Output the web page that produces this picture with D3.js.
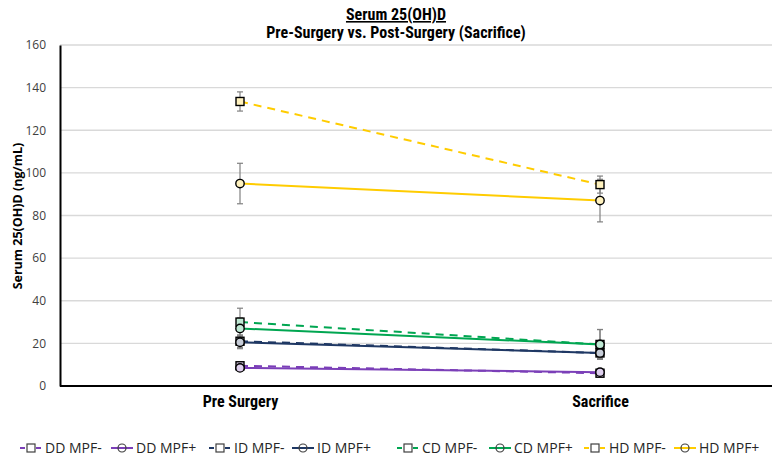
<!DOCTYPE html>
<html><head><meta charset="utf-8">
<script src="https://cdn.jsdelivr.net/npm/d3@7"></script>
<style>body{margin:0;background:#fff}svg{display:block}</style>
</head><body><svg id="c" width="772" height="462"></svg>
<script>
const categories = ["Pre Surgery", "Sacrifice"];
const seriesNames = ["DD MPF-", "DD MPF+", "ID MPF-", "ID MPF+", "CD MPF-", "CD MPF+", "HD MPF-", "HD MPF+"];
const seriesColors = ["#7B3FB8", "#7B3FB8", "#1F3864", "#1F3864", "#00A651", "#00A651", "#FFCC00", "#FFCC00"];
const seriesDashed = [true, false, true, false, true, false, true, false];
const seriesMarker = ["square", "circle", "square", "circle", "square", "circle", "square", "circle"];
const values = [
  [9.5, 6.0],
  [8.5, 6.5],
  [21.0, 15.5],
  [20.5, 15.5],
  [30.0, 19.5],
  [27.0, 19.5],
  [133.5, 94.5],
  [95.0, 87.0]
];
const errors = [
  [1.5, 1.0],
  [1.5, 1.5],
  [3.0, 2.5],
  [3.0, 2.5],
  [6.5, 7.0],
  [5.0, 7.0],
  [4.5, 4.0],
  [9.5, 10.0]
];
const yTicks = [0, 20, 40, 60, 80, 100, 120, 140, 160];

(function () {
const svg = d3.select("#c");
const mL = 60, mR = 780, mT = 45, mB = 386;
const x = d3.scalePoint().domain(categories).range([mL, mR]).padding(0.5);
const y = d3.scaleLinear().domain([0, 160]).range([mB, mT]);

// gridlines
svg.append("g").selectAll("line").data(yTicks.slice(1)).join("line")
  .attr("x1", mL).attr("x2", 772).attr("y1", d => y(d)).attr("y2", d => y(d))
  .attr("stroke", "#d9d9d9").attr("stroke-width", 1.3);

// y axis
const ya = svg.append("g").attr("transform", `translate(${mL},0)`)
  .call(d3.axisLeft(y).tickValues(yTicks).tickSize(0).tickPadding(14));
ya.select(".domain").attr("stroke", "#000").attr("stroke-width", 2);
ya.selectAll("text").attr("font-family", "'Open Sans', 'Noto Sans', sans-serif").attr("font-size", 12).attr("fill", "#404040");

// x axis
const xa = svg.append("g").attr("transform", `translate(0,${mB})`)
  .call(d3.axisBottom(x).tickSize(0).tickPadding(10));
xa.select(".domain").attr("stroke", "#000").attr("stroke-width", 2).attr("d", `M${mL},0H772`);
xa.selectAll("text").attr("font-family", "'Liberation Sans Narrow', 'Roboto Condensed', 'Liberation Sans', Arial, sans-serif")
  .attr("font-stretch", "condensed").attr("font-weight", "bold").attr("font-size", 16).attr("fill", "#000");

// series lines
const line = d3.line().x((d, i) => x(categories[i])).y(d => y(d));
seriesNames.forEach((name, s) => {
  svg.append("path").datum(values[s]).attr("d", line)
    .attr("fill", "none").attr("stroke", seriesColors[s]).attr("stroke-width", 2)
    .attr("stroke-dasharray", seriesDashed[s] ? "8,6" : null);
});

// error bars
seriesNames.forEach((name, s) => {
  values[s].forEach((v, i) => {
    const cx = x(categories[i]), e = errors[s][i];
    const g = svg.append("g").attr("stroke", "#808080").attr("stroke-width", 1.2);
    g.append("line").attr("x1", cx).attr("x2", cx).attr("y1", y(v - e)).attr("y2", y(v + e));
    g.append("line").attr("x1", cx - 3).attr("x2", cx + 3).attr("y1", y(v - e)).attr("y2", y(v - e));
    g.append("line").attr("x1", cx - 3).attr("x2", cx + 3).attr("y1", y(v + e)).attr("y2", y(v + e));
  });
});

// markers
function marker(g, type, cx, cy, color) {
  if (type === "square") {
    g.append("rect").attr("x", cx - 4).attr("y", cy - 4).attr("width", 8).attr("height", 8)
      .attr("fill", d3.interpolateRgb(color, "#fff")(0.75)).attr("stroke", "#000").attr("stroke-width", 1.4);
  } else {
    g.append("circle").attr("cx", cx).attr("cy", cy).attr("r", 4.2)
      .attr("fill", d3.interpolateRgb(color, "#fff")(0.75)).attr("stroke", "#000").attr("stroke-width", 1.4);
  }
}
seriesNames.forEach((name, s) => {
  const g = svg.append("g");
  values[s].forEach((v, i) => marker(g, seriesMarker[s], x(categories[i]), y(v), seriesColors[s]));
});

// title
const tf = "'Liberation Sans Narrow', 'Roboto Condensed', 'Liberation Sans', Arial, sans-serif";
svg.append("text").attr("x", 396).attr("y", 20).attr("text-anchor", "middle")
  .attr("font-family", tf).attr("font-stretch", "condensed").attr("font-weight", "bold").attr("font-size", 16)
  .attr("text-decoration", "underline").text("Serum 25(OH)D");
svg.append("text").attr("x", 396).attr("y", 38).attr("text-anchor", "middle")
  .attr("font-family", tf).attr("font-stretch", "condensed").attr("font-weight", "bold").attr("font-size", 16)
  .text("Pre-Surgery vs. Post-Surgery (Sacrifice)");

// y title
svg.append("text").attr("transform", "translate(22,216) rotate(-90)").attr("text-anchor", "middle")
  .attr("font-family", "'Open Sans', 'Noto Sans', sans-serif").attr("font-weight", "bold").attr("font-size", 12.5)
  .text("Serum 25(OH)D (ng/mL)");

// legend
const legX = [20, 111, 209, 292, 397, 489, 584, 674];
const lg = svg.append("g");
seriesNames.forEach((name, s) => {
  const lx = legX[s], ly = 448;
  lg.append("line").attr("x1", lx).attr("x2", lx + 22).attr("y1", ly).attr("y2", ly)
    .attr("stroke", seriesColors[s]).attr("stroke-width", 2)
    .attr("stroke-dasharray", seriesDashed[s] ? "5,3" : null);
  const g = lg.append("g");
  if (seriesMarker[s] === "square") {
    g.append("rect").attr("x", lx + 7).attr("y", ly - 4).attr("width", 8).attr("height", 8)
      .attr("fill", "#fff").attr("stroke", "#404040").attr("stroke-width", 1.2);
  } else {
    g.append("circle").attr("cx", lx + 11).attr("cy", ly).attr("r", 4)
      .attr("fill", "none").attr("stroke", "#404040").attr("stroke-width", 1.2);
  }
  lg.append("text").attr("x", lx + 25).attr("y", ly + 5)
    .attr("font-family", "'Open Sans', 'Noto Sans', sans-serif").attr("font-size", 14).attr("fill", "#262626")
    .text(name);
});
})();
</script></body></html>
